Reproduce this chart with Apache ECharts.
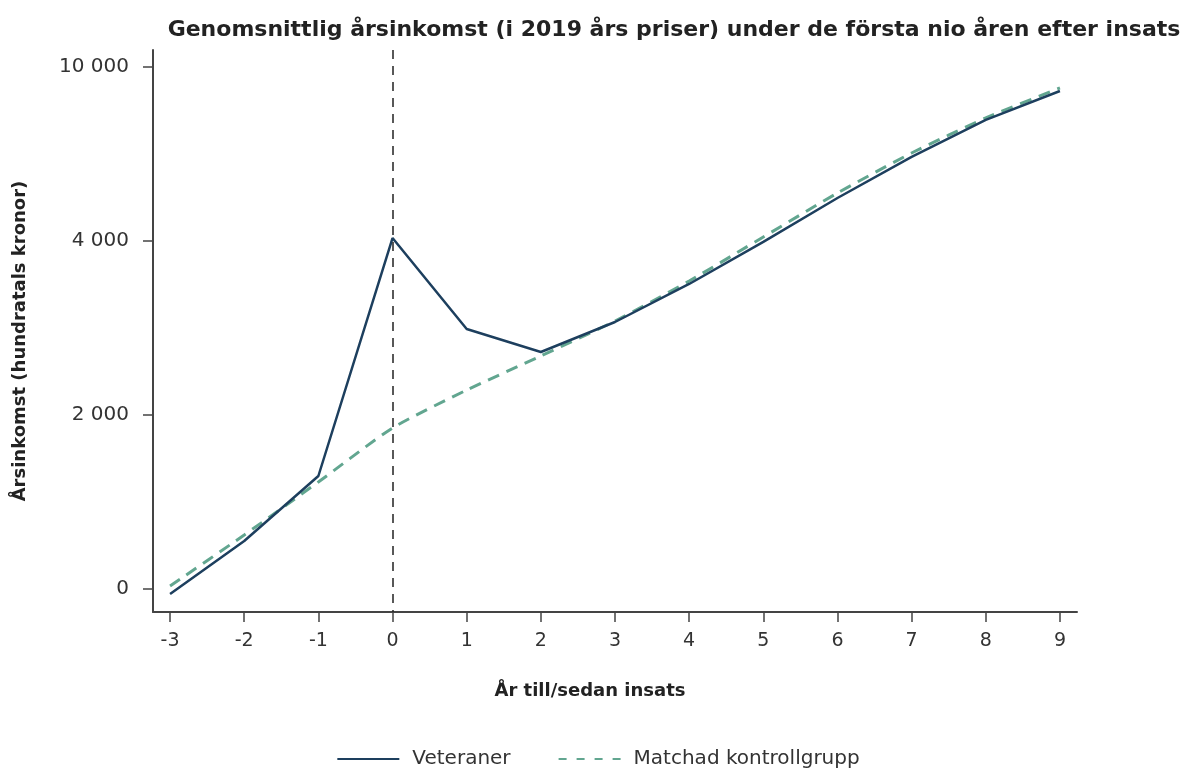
<!DOCTYPE html>
<html>
<head>
<meta charset="utf-8">
<script src="https://cdn.jsdelivr.net/npm/echarts@6/dist/echarts.min.js"></script>
<style>
  html, body { margin: 0; padding: 0; background: #fff; }
  #chart { width: 1197px; height: 774px; }
</style>
</head>
<body>
<div id="chart"></div>
<script>
// years relative to deployment
const years = [-3, -2, -1, 0, 1, 2, 3, 4, 5, 6, 7, 8, 9]
// values in axis units (tick "10 000" sits where 6000 would be on a linear scale)
const veteraner = [-57, 552, 1299, 4034, 2989, 2724, 3069, 3506, 3989, 4494, 4966, 5391, 5724]
const kontroll = [34, 621, 1230, 1851, 2287, 2678, 3080, 3540, 4046, 4552, 5011, 5414, 5759]
const yTicks = [0, 2000, 4000, 6000]
const yTickLabels = ['0', '2 000', '4 000', '10 000']

const navy = '#1d3f5e'
const teal = '#62a690'
const textColor = '#222'
const font = 'DejaVu Sans'

const chart = echarts.init(document.getElementById('chart'))

const option = {
  backgroundColor: '#fff',
  animation: false,
  title: {
    text: 'Genomsnittlig årsinkomst (i 2019 års priser) under de första nio åren efter insats',
    left: 669,
    top: 14,
    textAlign: 'center',
    textStyle: {
      fontFamily: font,
      fontSize: 22,
      fontWeight: 'bold',
      color: textColor
    }
  },
  grid: {
    left: 153,
    right: 120,
    top: 50,
    bottom: 162
  },
  legend: {
    bottom: 0,
    left: 'center',
    itemWidth: 62,
    itemHeight: 10,
    itemGap: 48,
    textStyle: { fontFamily: font, fontSize: 20, color: '#333', padding: [0, 0, 0, 8] },
    data: [
      { name: 'Veteraner', icon: 'path://M0,4 L62,4 L62,6 L0,6 Z' },
      { name: 'Matchad kontrollgrupp', icon: 'path://M0,4 L8,4 L8,6 L0,6 Z M18,4 L26,4 L26,6 L18,6 Z M36,4 L44,4 L44,6 L36,6 Z M54,4 L62,4 L62,6 L54,6 Z' }
    ]
  },
  xAxis: {
    type: 'value',
    min: -3.23,
    max: 9.23,
    name: 'År till/sedan insats',
    nameLocation: 'middle',
    nameGap: 70,
    nameTextStyle: { fontFamily: font, fontSize: 18, fontWeight: 'bold', color: textColor, padding: [0, 50, 0, 0] },
    splitLine: { show: false },
    axisLine: { onZero: false, lineStyle: { color: '#444', width: 2 } },
    axisTick: { customValues: years, length: 10, lineStyle: { color: '#444', width: 1.5 } },
    axisLabel: {
      customValues: years,
      fontFamily: font,
      fontSize: 19,
      color: '#333',
      margin: 20
    }
  },
  yAxis: {
    type: 'value',
    min: -264,
    max: 6195,
    name: 'Årsinkomst (hundratals kronor)',
    nameLocation: 'middle',
    nameRotate: 90,
    nameGap: 124,
    nameTextStyle: { fontFamily: font, fontSize: 18, fontWeight: 'bold', color: textColor, padding: [0, 20, 0, 0] },
    splitLine: { show: false },
    axisLine: { show: true, onZero: false, lineStyle: { color: '#444', width: 2 } },
    axisTick: { show: true, customValues: yTicks, length: 10, lineStyle: { color: '#444', width: 1.5 } },
    axisLabel: {
      customValues: yTicks,
      fontFamily: font,
      fontSize: 20,
      color: '#333',
      margin: 24,
      formatter: function (v) {
        return yTickLabels[yTicks.indexOf(v)]
      }
    }
  },
  series: [
    {
      name: 'Veteraner',
      type: 'line',
      data: years.map((x, i) => [x, veteraner[i]]),
      showSymbol: false,
      z: 3,
      lineStyle: { color: navy, width: 2.5 },
      itemStyle: { color: navy },
      markLine: {
        silent: true,
        symbol: 'none',
        label: { show: false },
        lineStyle: { color: '#222', type: [9, 7], width: 1.5 },
        data: [[{ coord: [0, 6195] }, { coord: [0, -264] }]]
      }
    },
    {
      name: 'Matchad kontrollgrupp',
      type: 'line',
      data: years.map((x, i) => [x, kontroll[i]]),
      showSymbol: false,
      smooth: 0.2,
      z: 2,
      lineStyle: { color: teal, width: 3, type: [12, 8] },
      itemStyle: { color: teal }
    }
  ]
}

chart.setOption(option)
</script>
</body>
</html>
